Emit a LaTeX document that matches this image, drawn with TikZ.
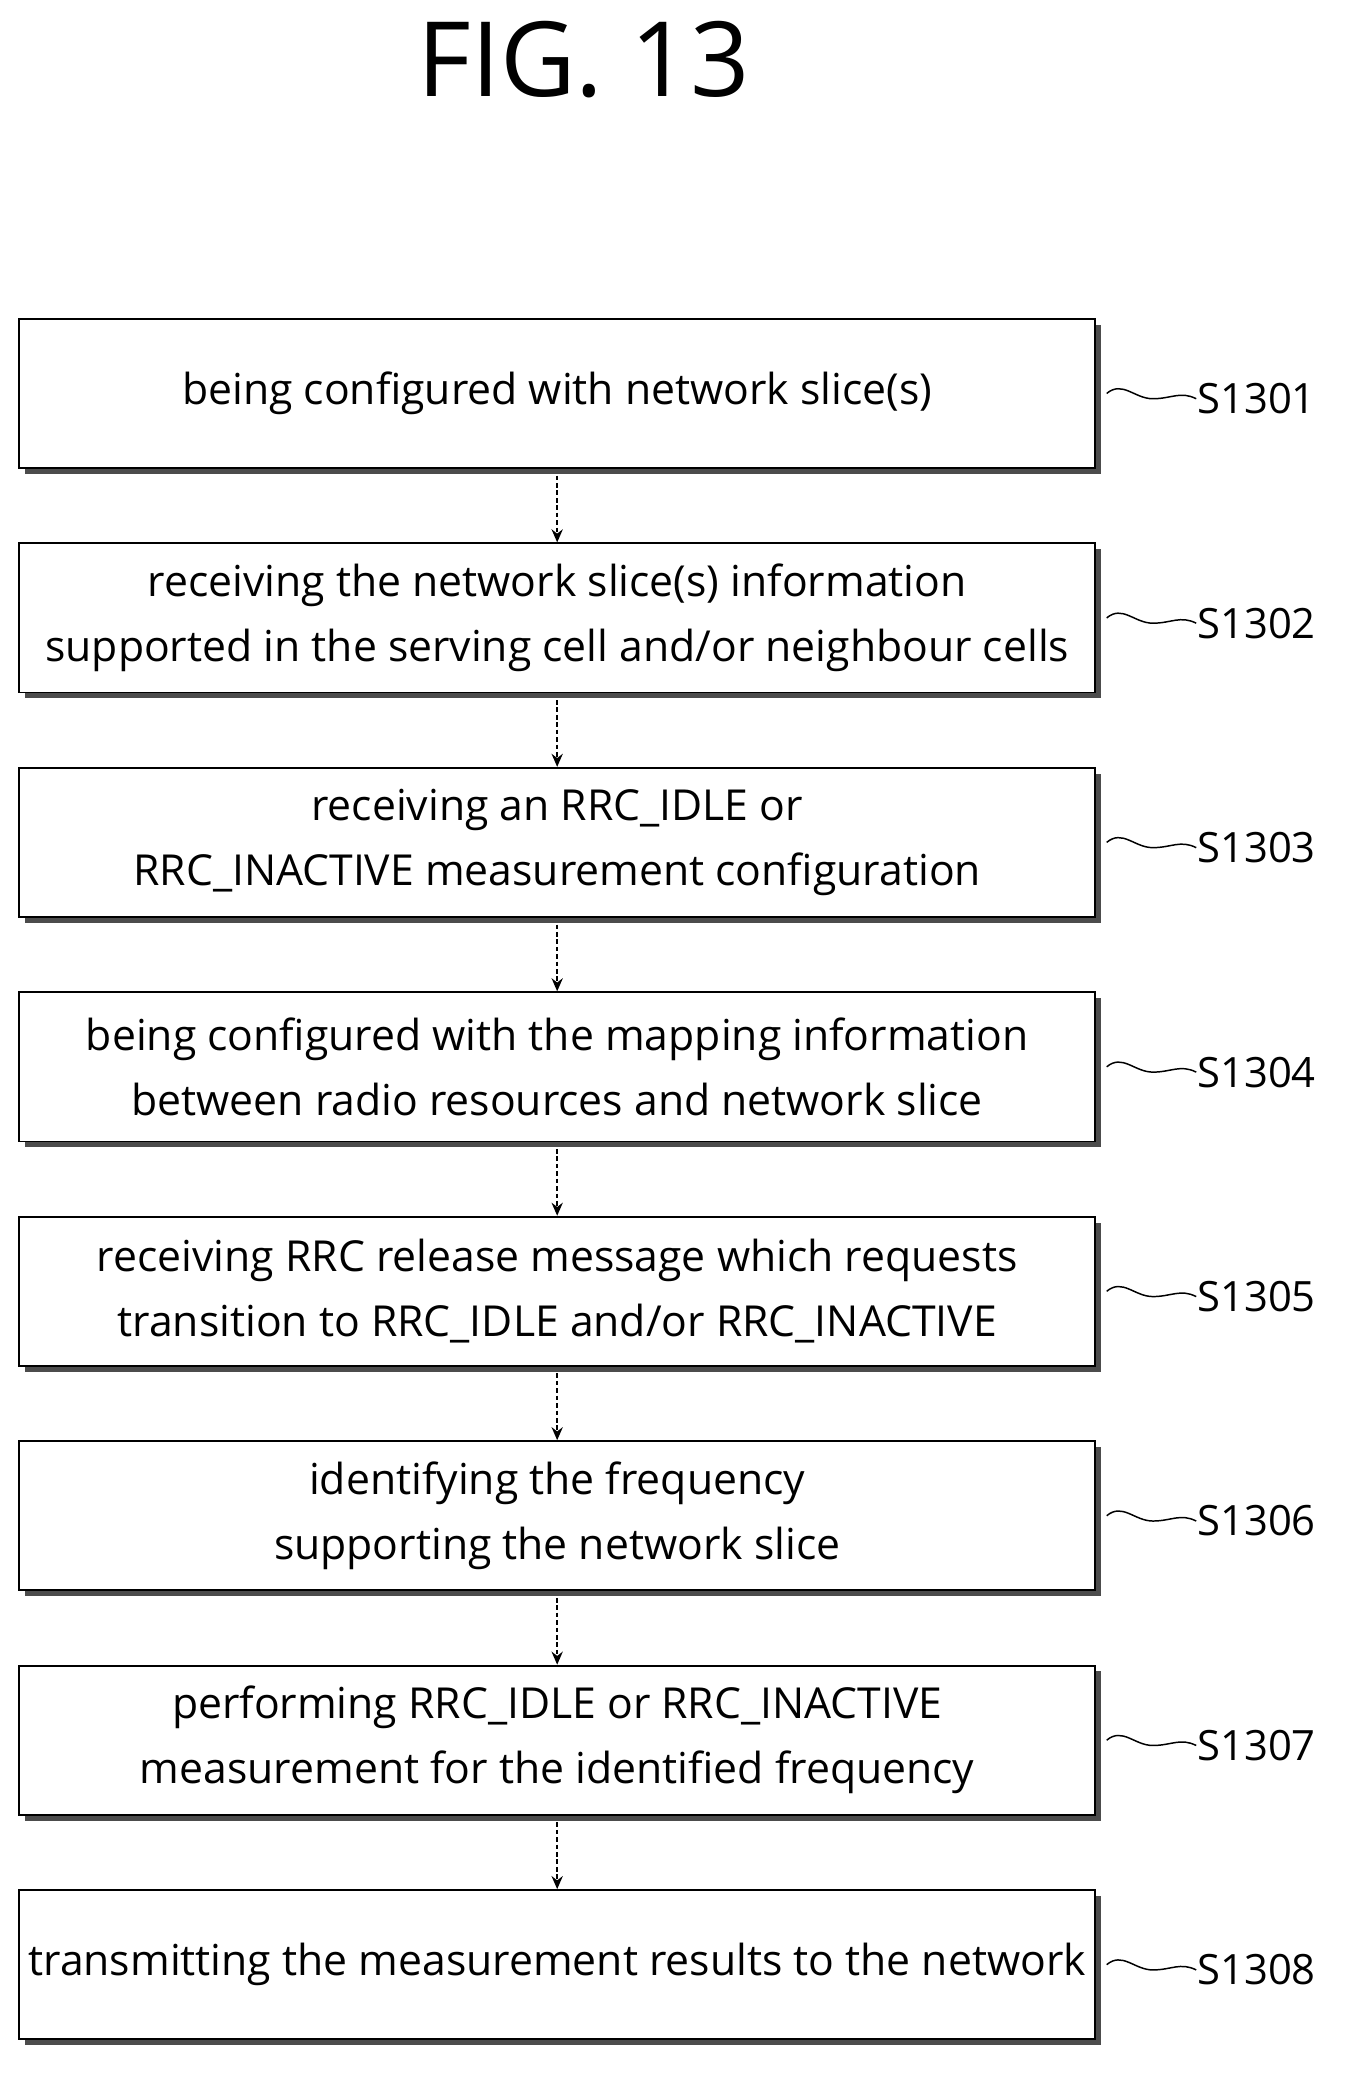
\documentclass[tikz,border=0pt]{standalone}
\usepackage{fontspec}
\setmainfont{Open Sans}
\usetikzlibrary{arrows.meta,positioning,shadows}
\tikzset{
  stepbox/.style={draw=black,line width=2pt,fill=white,minimum width=40.75cm,minimum height=5.65cm,
    align=center,font=\fontsize{46}{70}\selectfont,inner sep=0pt,
    general shadow={fill=black!70,shadow xshift=0.22cm,shadow yshift=-0.22cm}},
  steplabel/.style={font=\fontsize{45}{50}\selectfont,anchor=west},
  flow/.style={line width=2.5pt,dash pattern=on 5pt off 3pt,-{Stealth[length=14pt,width=12pt]}},
  tick/.style={line width=1.6pt}
}
\begin{document}
\begin{tikzpicture}[x=0.05cm,y=-0.05cm]
  \useasboundingbox (0,0) rectangle (1024,1589);
  \node[font=\fontsize{112}{120}\selectfont] (title) at (442,45) {FIG. 13};
  \foreach \i/\txt in {1/{being configured with network slice(s)},
      2/{receiving the network slice(s) information\\supported in the serving cell and/or neighbour cells},
      3/{receiving an RRC\_IDLE or\\RRC\_INACTIVE measurement configuration},
      4/{being configured with the mapping information\\between radio resources and network slice},
      5/{receiving RRC release message which requests\\transition to RRC\_IDLE and/or RRC\_INACTIVE},
      6/{identifying the frequency\\supporting the network slice},
      7/{performing RRC\_IDLE or RRC\_INACTIVE\\measurement for the identified frequency},
      8/{transmitting the measurement results to the network}}{
    \node[stepbox] (step\i) at (422,{298+170*(\i-1)}) {\txt};
    \node[steplabel,inner sep=1pt] (lab\i) at (906,{302+170*(\i-1)}) {S130\i};
    \draw[tick] ([xshift=0.4cm]step\i.east) .. controls +(12,-10) and +(-14,0) .. +(35,4)
      .. controls +(14,0) and +(-12,-6) .. (lab\i.west);
  }
  \foreach \i [evaluate=\i as \j using int(\i+1)] in {1,...,7}{
    \draw[flow] ([yshift=-0.25cm]step\i.south) -- (step\j.north);
  }
\end{tikzpicture}
\end{document}
